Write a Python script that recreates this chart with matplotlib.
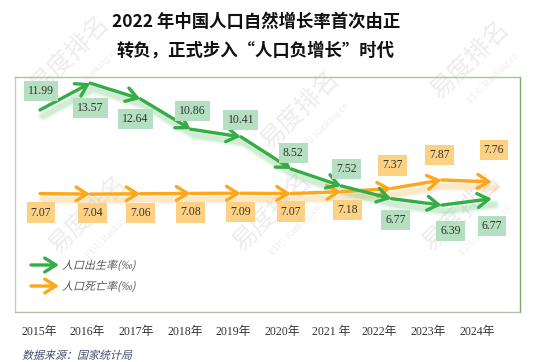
import matplotlib.pyplot as plt
from matplotlib import transforms
from matplotlib.textpath import TextPath
from matplotlib.patches import PathPatch
from matplotlib.font_manager import FontProperties
import numpy as np

plt.rcParams['font.family'] = ['Liberation Serif', 'Noto Sans CJK SC', 'DejaVu Sans']

years = ['2015年', '2016年', '2017年', '2018年', '2019年',
         '2020年', '2021 年', '2022年', '2023年', '2024年']
birth_rate = [11.99, 13.57, 12.64, 10.86, 10.41, 8.52, 7.52, 6.77, 6.39, 6.77]
death_rate = [7.07, 7.04, 7.06, 7.08, 7.09, 7.07, 7.18, 7.37, 7.87, 7.76]

title = '2022 年中国人口自然增长率首次由正\n转负，正式步入“人口负增长”时代'
source = '数据来源：国家统计局'
birth_name = '人口出生率(‰)'
death_name = '人口死亡率(‰)'

# label offsets in pixels (dx, dy) from each point
birth_off = [(1, 19), (0, -25), (-5, -20), (2, 18), (0, 17),
             (2, 16), (5, 17), (4, -21), (9, -26), (0, -27)]
death_off = [(1, -19), (2, -19), (0, -19), (0, -19), (0, -19),
             (0, -18), (6, -18), (1, 23), (-2, 25), (2, 32)]

green = '#35ad46'
orange = '#fda71a'
green_box = '#b4dfc0'
orange_box = '#fdd183'

W, H = 542, 362
fig = plt.figure(figsize=(W / 100, H / 100), dpi=100)
fig.patch.set_facecolor('white')

# faint watermark, kept behind everything
for (wx, wy) in [(70, 55), (470, 60), (88, 215), (272, 212), (462, 212), (300, 110)]:
    fig.text(wx / W, 1 - wy / H, '易度排名', rotation=45, fontsize=18,
             color='#ededed', ha='center', va='center', family='Noto Sans CJK SC', zorder=-5)
    fig.text((wx + 24) / W, 1 - (wy + 18) / H, 'EDU Ranking.cn', rotation=45, fontsize=7,
             color='#eeeeee', ha='center', va='center', family='Liberation Serif', zorder=-5)

left, right, top, bottom = 15, 520, 77, 312
ax = fig.add_axes([left / W, 1 - bottom / H, (right - left) / W, (bottom - top) / H])
ax.patch.set_alpha(0)
x = np.arange(len(years))
ax.set_xlim(-0.498, 9.56)
ax.set_ylim(0.1, 13.93)
ax.set_xticks([])
ax.set_yticks([])
ax.spines['left'].set_color('#bcd3ae')
ax.spines['top'].set_color('#a9c79a')
ax.spines['right'].set_color('#7fab62')
ax.spines['bottom'].set_color('#b8c0b0')
for s in ax.spines.values():
    s.set_linewidth(1.0)


def draw_series(vals, color, shadow):
    # blurred shadow under the line
    for lw, a in [(7, 0.12), (4, 0.18)]:
        tr = transforms.offset_copy(ax.transData, fig=fig, x=3, y=-6, units='dots')
        ax.plot(x, vals, color=shadow, lw=lw, alpha=a, transform=tr,
                solid_capstyle='round', zorder=1)
    for i in range(len(vals) - 1):
        ax.annotate('', xy=(x[i + 1], vals[i + 1]), xytext=(x[i], vals[i]),
                    arrowprops=dict(arrowstyle='->,head_length=0.8,head_width=0.5',
                                    color=color, lw=2.4, shrinkA=0, shrinkB=0,
                                    mutation_scale=10),
                    zorder=3)


draw_series(death_rate, orange, '#f5b040')
draw_series(birth_rate, green, '#5cbf6a')


def draw_labels(vals, offs, box):
    for i, v in enumerate(vals):
        ax.annotate(f'{v:.2f}', xy=(x[i], v), xytext=offs[i], textcoords='offset pixels',
                    ha='center', va='center', fontsize=8.5, color='#333333',
                    bbox=dict(boxstyle='square,pad=0.35', fc=box, ec='none'),
                    zorder=4)


draw_labels(birth_rate, birth_off, green_box)
draw_labels(death_rate, death_off, orange_box)


def slanted_text(s, px, py, size, color):
    # CJK fonts have no italic, so slant the glyph outlines by hand
    path = TextPath((0, 0), s, size=size, prop=FontProperties(family='Noto Sans CJK SC'))
    tr = transforms.Affine2D().skew_deg(14, 0).translate(px, H - py - 0.36 * size)
    fig.add_artist(PathPatch(path, transform=tr, fc=color, ec='none', lw=0))


# legend
for ly, c, name in [(265, green, birth_name), (286, orange, death_name)]:
    fig.add_artist(plt.Annotation('', xy=(59 / W, 1 - ly / H), xytext=(31 / W, 1 - ly / H),
                                  xycoords='figure fraction', textcoords='figure fraction',
                                  arrowprops=dict(arrowstyle='->,head_length=0.8,head_width=0.5',
                                                  color=c, lw=2.4, shrinkA=0, shrinkB=0,
                                                  mutation_scale=10)))
    slanted_text(name, 62, ly, 11, '#555555')

# x tick labels on their own scale
ax2 = fig.add_axes(ax.get_position())
ax2.patch.set_alpha(0)
ax2.set_xlim(-0.493, 9.883)
ax2.set_xticks(x)
ax2.set_xticklabels(years, fontsize=8.5, color='#333333')
ax2.tick_params(axis='x', length=0, pad=10)
ax2.set_yticks([])
for s in ax2.spines.values():
    s.set_visible(False)

fig.text(256 / W, 1 - 36 / H, title, ha='center', va='center', fontsize=12.5,
         fontweight='bold', color='#111111', linespacing=1.75,
         family=['Noto Sans CJK SC'])
slanted_text(source, 22, 355, 11, '#3d4d6e')

fig.savefig('out.png', dpi=100)
